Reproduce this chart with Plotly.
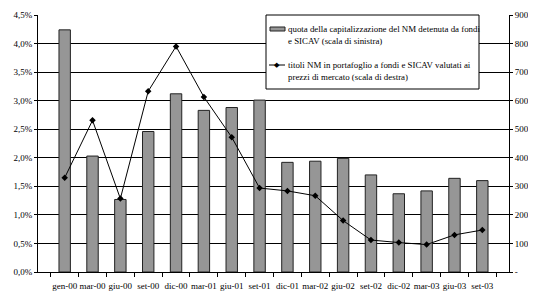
import plotly.graph_objects as go

categories = ["gen-00", "mar-00", "giu-00", "set-00", "dic-00", "mar-01", "giu-01", "set-01",
              "dic-01", "mar-02", "giu-02", "set-02", "dic-02", "mar-03", "giu-03", "set-03"]
quota_pct = [4.24, 2.03, 1.27, 2.46, 3.12, 2.83, 2.88, 3.01,
             1.92, 1.94, 1.99, 1.70, 1.37, 1.42, 1.64, 1.60]
titoli_nm = [330, 531, 257, 633, 790, 613, 472, 294,
             284, 267, 180, 112, 103, 96, 130, 147]

left_vals = [i * 0.5 for i in range(10)]
left_text = [f"{v:.1f}".replace(".", ",") + "%" for v in left_vals]
right_vals = [i * 100 for i in range(10)]
right_text = ["-"] + [str(v) for v in right_vals[1:]]

legend_bar = "quota della capitalizzazione del NM detenuta da fondi<br>e SICAV (scala di sinistra)"
legend_line = "titoli NM in portafoglio a fondi e SICAV valutati ai<br>prezzi di mercato (scala di destra)"

FAM = "Liberation Serif, Times New Roman, serif"

fig = go.Figure()
fig.add_trace(go.Bar(x=categories, y=quota_pct, name="quota", showlegend=False,
                     marker=dict(color="#969696", line=dict(color="#222222", width=1)),
                     yaxis="y"))
fig.add_trace(go.Scatter(x=categories, y=titoli_nm, name="titoli", mode="lines+markers",
                         showlegend=False,
                         line=dict(color="black", width=1),
                         marker=dict(symbol="diamond", size=5, color="black"),
                         yaxis="y2"))

# page has an 8px body margin; figure is placed at (8, 8)
OFF = 8
FW, FH = 536 - OFF, 291 - OFF
# plot area in page pixels: x 38..509, y 15..272
L, R, T, B = 38, 509, 15, 272
W, H = R - L, B - T
def px(x): return (x - L) / W
def py(y): return 1 - (y - T) / H

shapes = [
    dict(type="rect", xref="paper", yref="paper", x0=px(266), x1=px(479), y0=py(89), y1=py(15),
         line=dict(color="black", width=1), fillcolor="white", layer="above"),
    dict(type="rect", xref="paper", yref="paper", x0=px(270), x1=px(285), y0=py(31), y1=py(27),
         line=dict(color="#222222", width=1), fillcolor="#969696", layer="above"),
    dict(type="line", xref="paper", yref="paper", x0=px(269), x1=px(285), y0=py(65), y1=py(65),
         line=dict(color="black", width=1), layer="above"),
]
annotations = [
    dict(xref="paper", yref="paper", x=px(286), y=py(35), xanchor="left", yanchor="middle",
         text=legend_bar, showarrow=False, align="left",
         font=dict(family=FAM, size=8.9, color="black")),
    dict(xref="paper", yref="paper", x=px(286), y=py(71), xanchor="left", yanchor="middle",
         text=legend_line, showarrow=False, align="left",
         font=dict(family=FAM, size=8.9, color="black")),
    dict(xref="paper", yref="paper", x=px(277), y=py(65), xanchor="center", yanchor="middle",
         text="\u25c6", showarrow=False, font=dict(size=7, color="black")),
]

font = dict(family=FAM, size=9, color="black")
fig.update_layout(
    template="none",
    width=FW, height=FH,
    margin=dict(l=L - OFF, r=FW - (R - OFF), t=T - OFF, b=FH - (B - OFF), pad=0, autoexpand=False),
    paper_bgcolor="white", plot_bgcolor="white",
    font=font,
    bargap=0.59,
    showlegend=False,
    shapes=shapes, annotations=annotations,
    xaxis=dict(showgrid=False, showline=True, linecolor="black", linewidth=1,
               ticks="outside", ticklen=4, tickcolor="black", tickangle=0,
               tickson="boundaries", tickfont=font, automargin=False,
               ticklabelstandoff=5),
    yaxis=dict(range=[0, 4.5], tickvals=left_vals, ticktext=left_text,
               showgrid=True, gridcolor="black", gridwidth=1,
               showline=True, linecolor="black", linewidth=1,
               ticks="outside", ticklen=3, tickcolor="black",
               zeroline=False, tickfont=font, automargin=False),
    yaxis2=dict(range=[0, 900], tickvals=right_vals, ticktext=right_text,
                overlaying="y", side="right", showgrid=False,
                showline=True, linecolor="black", linewidth=1,
                ticks="outside", ticklen=3, tickcolor="black",
                zeroline=False, tickfont=font, automargin=False),
)

fig.write_html("out.html")
